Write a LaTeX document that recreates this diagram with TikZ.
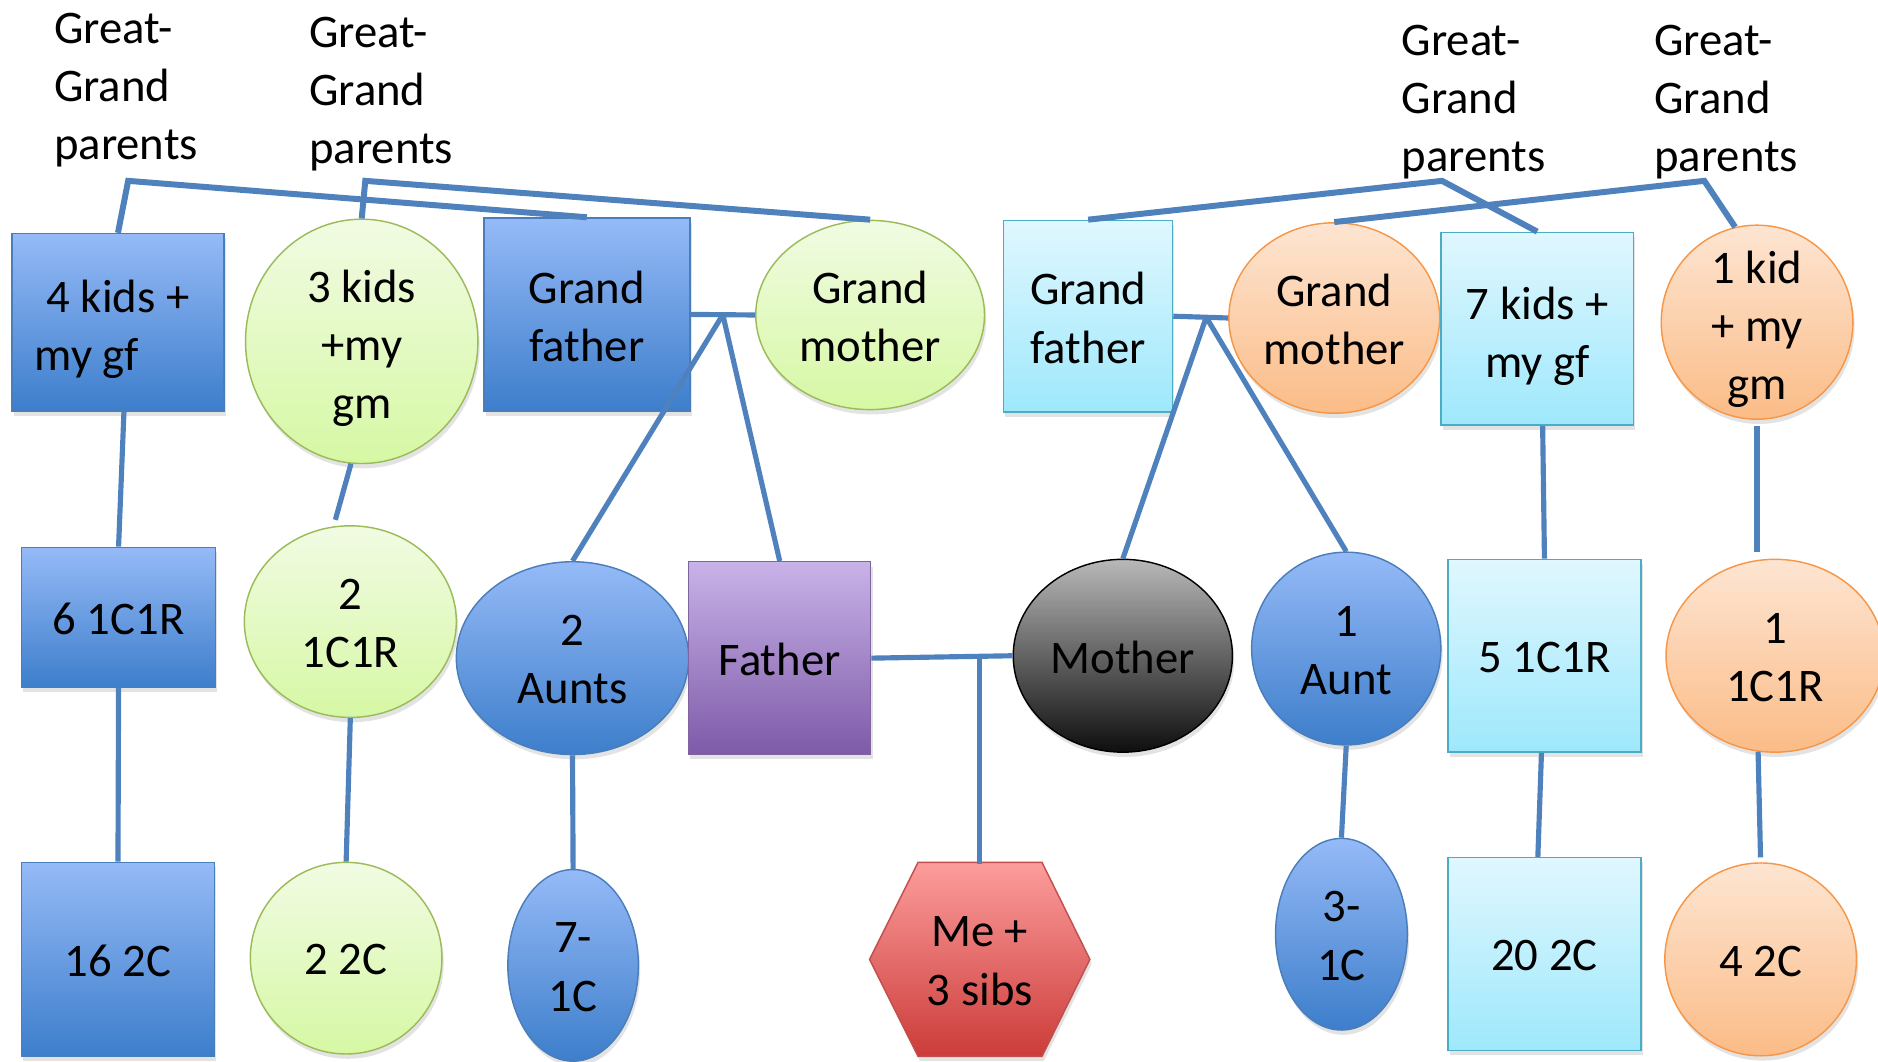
\documentclass[tikz,border=0pt]{standalone}
\usepackage{fontspec}
\setmainfont{Carlito}
\usetikzlibrary{shapes.geometric,shadows,calc}
\definecolor{connc}{HTML}{4F81BD}
\definecolor{bluetop}{HTML}{95BAF7}
\definecolor{bluebot}{HTML}{3D7ECB}
\definecolor{blueln}{HTML}{4A7EBB}
\definecolor{greentop}{HTML}{F1FBE3}
\definecolor{greenbot}{HTML}{D6F8A4}
\definecolor{greenln}{HTML}{9BBB59}
\definecolor{cyantop}{HTML}{E0F7FE}
\definecolor{cyanbot}{HTML}{9EE8FC}
\definecolor{cyanln}{HTML}{4BACC6}
\definecolor{orangetop}{HTML}{FDE5D2}
\definecolor{orangebot}{HTML}{FBBC87}
\definecolor{orangeln}{HTML}{F79646}
\definecolor{purpletop}{HTML}{C8B3E8}
\definecolor{purplebot}{HTML}{7E5AA8}
\definecolor{purpleln}{HTML}{8064A2}
\definecolor{redtop}{HTML}{FC9D9C}
\definecolor{redbot}{HTML}{CB3C39}
\definecolor{redln}{HTML}{C0504D}
\definecolor{graytop}{HTML}{B8B8B8}
\definecolor{graybot}{HTML}{0E0E0E}
\begin{document}
\begin{tikzpicture}[x=1pt,y=-1pt,
  font=\fontsize{39}{48.5}\selectfont,
  base/.style={inner sep=0pt, line width=1.2pt,
    drop shadow={opacity=0.22, shadow xshift=1.5pt, shadow yshift=-4pt}},
  rbox/.style={base, rectangle},
  ell/.style={base, ellipse},
  bluefill/.style={top color=bluetop, bottom color=bluebot, draw=blueln},
  greenfill/.style={top color=greentop, bottom color=greenbot, draw=greenln},
  cyanfill/.style={top color=cyantop, bottom color=cyanbot, draw=cyanln},
  orangefill/.style={top color=orangetop, bottom color=orangebot, draw=orangeln},
  purplefill/.style={top color=purpletop, bottom color=purplebot, draw=purpleln},
  redfill/.style={top color=redtop, bottom color=redbot, draw=redln},
  grayfill/.style={top color=graytop, bottom color=graybot, draw=black},
  every label/.style={align=center, inner sep=0pt, yshift=-1.5pt},
  dsc/.style={yshift=-4.5pt},
  conn/.style={draw=connc, line width=4.3pt},
  topconn/.style={draw=connc, line width=5pt},
  ggp/.style={anchor=north west, align=left, inner sep=0pt}
]
\useasboundingbox (0,0) rectangle (1568,886);

% ---- top texts
\node[ggp] (t1) at (45,11) {Great-\\Grand\\parents};
\node[ggp] (t2) at (258,14) {Great-\\Grand\\parents};
\node[ggp] (t3) at (1170,21) {Great-\\Grand\\parents};
\node[ggp] (t4) at (1381,21) {Great-\\Grand\\parents};

% ---- row 1
\node[rbox, bluefill, minimum width=177pt, minimum height=148pt,
  label={[dsc]center:4 kids +\\my gf\hspace*{52pt}}] (kidsA) at (98.5,269) {};
\node[ell, greenfill, minimum width=194pt, minimum height=204pt,
  label={[dsc]center:3 kids\\+my\\gm}] (kidsB) at (302,285) {};
\node[rbox, bluefill, minimum width=172pt, minimum height=161pt,
  label={center:Grand\\father}] (gfA) at (490,262.5) {};
\node[ell, greenfill, minimum width=191pt, minimum height=158pt,
  label={center:Grand\\mother}] (gmA) at (726.5,263) {};
\node[rbox, cyanfill, minimum width=141pt, minimum height=160pt,
  label={center:Grand\\father}] (gfB) at (908.5,264) {};
\node[ell, orangefill, minimum width=176pt, minimum height=159pt,
  label={center:Grand\\mother}] (gmB) at (1114,265.5) {};
\node[rbox, cyanfill, minimum width=161pt, minimum height=161pt,
  label={[dsc]center:7 kids +\\my gf}] (kidsC) at (1283.5,274.5) {};
\node[ell, orangefill, minimum width=160pt, minimum height=162pt,
  label={[dsc]center:1 kid\\+ my\\gm}] (kidsD) at (1467,269) {};

% ---- row 2
\node[rbox, bluefill, minimum width=162pt, minimum height=117pt,
  label={center:6 1C1R}] (c1A) at (99,515.5) {};
\node[ell, greenfill, minimum width=177pt, minimum height=160pt,
  label={center:2\\1C1R}] (c1B) at (292.5,519) {};
\node[ell, bluefill, minimum width=194pt, minimum height=161pt,
  label={center:2\\Aunts}] (aunts) at (478,549.5) {};
\node[rbox, purplefill, minimum width=152pt, minimum height=161pt,
  label={center:Father}] (father) at (651,549.5) {};
\node[ell, grayfill, minimum width=183pt, minimum height=161pt,
  label={center:Mother}] (mother) at (937.5,547.5) {};
\node[ell, bluefill, minimum width=158pt, minimum height=161pt,
  label={center:1\\Aunt}] (aunt1) at (1124,541.5) {};
\node[rbox, cyanfill, minimum width=161pt, minimum height=161pt,
  label={center:5 1C1R}] (c1C) at (1289.5,547.5) {};
\node[ell, orangefill, minimum width=182pt, minimum height=161pt,
  label={center:1\\1C1R}] (c1D) at (1482,547.5) {};

% ---- row 3
\node[rbox, bluefill, minimum width=161pt, minimum height=162pt,
  label={center:16 2C}] (c2A) at (98.5,801) {};
\node[ell, greenfill, minimum width=160pt, minimum height=160pt,
  label={center:2 2C}] (c2B) at (289,800) {};
\node[ell, bluefill, minimum width=109pt, minimum height=160pt,
  label={center:7-\\1C}] (c1x) at (478.5,806) {};
\shade[redfill, line width=1.2pt,
  drop shadow={opacity=0.22, shadow xshift=1.5pt, shadow yshift=-4pt}]
  (766.5,720) -- (870,720) -- (910,801) -- (870,882) -- (766.5,882) -- (726,801) -- cycle;
\node[rectangle, inner sep=0pt, minimum width=184pt, minimum height=162pt,
  align=center, yshift=-1.5pt] (me) at (818,801) {Me +\\3 sibs};
\node[ell, bluefill, minimum width=110pt, minimum height=160pt,
  label={center:3-\\1C}] (c1y) at (1120,780) {};
\node[rbox, cyanfill, minimum width=161pt, minimum height=161pt,
  label={center:20 2C}] (c2C) at (1289.5,796.5) {};
\node[ell, orangefill, minimum width=160pt, minimum height=161pt,
  label={center:4 2C}] (c2D) at (1470,801) {};

% ---- helper coordinates
\coordinate (kA) at (107,151);
\coordinate (kB) at (305,151);
\coordinate (kC) at (1204,151);
\coordinate (kD) at (1423,151);
\coordinate (jA) at ($(gfA.east)!0.5!(gmA.west)$);
\coordinate (jB) at ($(gfB.east)!0.6!(gmB.west)$);
\coordinate (jC) at ($(father.east)!0.765!(mother.west)$);
\coordinate (e1) at (280,434);
\coordinate (e2) at (1467,461);

\draw[topconn] (kidsA.north) -- (kA) -- (gfA.north);
\draw[topconn] (kidsB.north) -- (kB) -- (gmA.north);
\draw[topconn] (gfB.north) -- (kC) -- (kidsC.north);
\draw[topconn] (gmB.north) -- (kD) -- (kidsD.103);

\draw[conn] (gfA.east) -- (gmA.west);
\draw[conn] (jA) -- (aunts.north);
\draw[conn] (jA) -- (father.north);
\draw[conn] (gfB.east) -- (gmB.west);
\draw[conn] (jB) -- (mother.north);
\draw[conn] (jB) -- (aunt1.north);
\draw[conn] (father.east) -- (mother.west);
\draw[conn] (jC) -- (jC |- me.north);

\draw[conn] ($(kidsA.south)+(5,0)$) -- (c1A.north);
\draw[conn] (c1A.south) -- (c2A.north);
\draw[conn] (kidsB.265) -- (e1);
\draw[conn] (c1B.south) -- (c2B.north);
\draw[conn] (aunts.south) -- (c1x.north);
\draw[conn] (aunt1.south) -- (c1y.north);
\draw[conn] ($(kidsC.south)+(4.5,0)$) -- (c1C.north);
\draw[conn] ($(c1C.south)+(-2.5,0)$) -- ($(c2C.north)+(-5.5,0)$);
\draw[conn, shorten <=5pt] (kidsD.south) -- (e2);
\draw[conn, shorten >=4pt] (c1D.260) -- (c2D.north);
\end{tikzpicture}
\end{document}
